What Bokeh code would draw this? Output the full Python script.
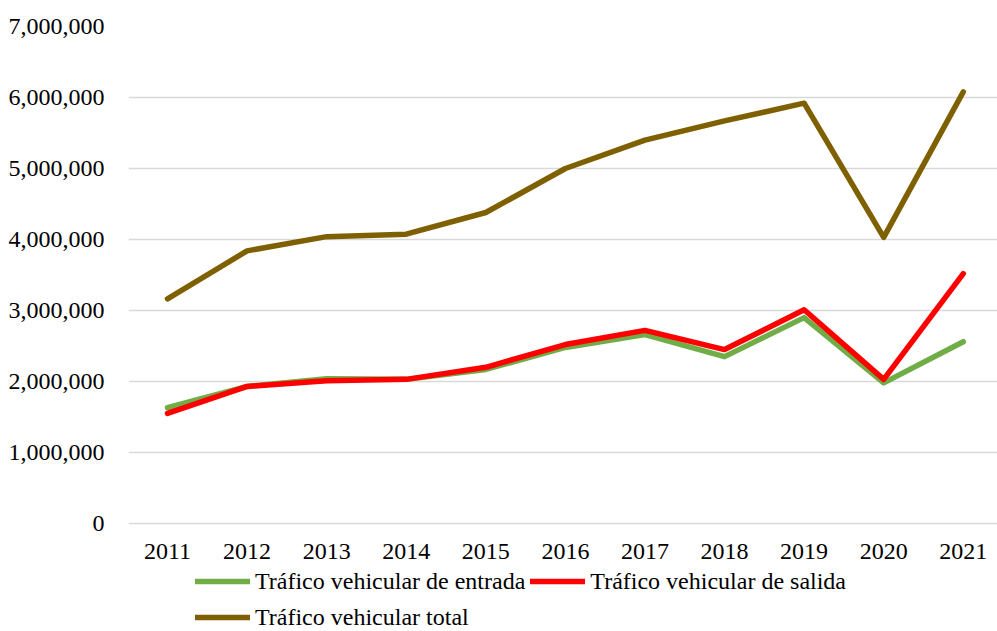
from bokeh.plotting import figure
from bokeh.models import Range1d, FixedTicker, NumeralTickFormatter, Legend, LegendItem, BasicTickFormatter
from bokeh.embed import file_html
from bokeh.resources import INLINE

years = [2011, 2012, 2013, 2014, 2015, 2016, 2017, 2018, 2019, 2020, 2021]
entrada = [1630000, 1930000, 2040000, 2030000, 2170000, 2480000, 2660000, 2350000, 2900000, 1980000, 2560000]
salida = [1550000, 1930000, 2010000, 2030000, 2200000, 2520000, 2720000, 2450000, 3010000, 2030000, 3520000]
total = [3165000, 3840000, 4040000, 4075000, 4380000, 5000000, 5400000, 5670000, 5920000, 4030000, 6080000]
y_ticks = [0, 1000000, 2000000, 3000000, 4000000, 5000000, 6000000, 7000000]
labels = ["Tráfico vehicular de entrada", "Tráfico vehicular de salida", "Tráfico vehicular total"]

FONT = "Liberation Serif"
FS = "24px"

# layout: plot area top at 26px, zero line at 523px, frame extended below zero to host the legend
TOP, ZERO, BOTTOM = 26, 523, 646
Y_MAX = y_ticks[-1]
y_min = -Y_MAX * (BOTTOM - ZERO) / (ZERO - TOP)

p = figure(frame_width=869, frame_height=BOTTOM - TOP, output_backend="svg", toolbar_location=None,
           x_range=Range1d(2010.51, 2021.43), y_range=Range1d(y_min, Y_MAX),
           min_border_left=128, min_border_right=0, min_border_top=TOP, min_border_bottom=0)
p.outline_line_color = None
p.background_fill_color = "white"
p.border_fill_color = "white"

p.xgrid.grid_line_color = None
p.ygrid.grid_line_color = "#D9D9D9"
p.ygrid.grid_line_width = 1.5
p.yaxis.ticker = FixedTicker(ticks=y_ticks)
p.yaxis.formatter = NumeralTickFormatter(format="0,0")
p.xaxis.ticker = FixedTicker(ticks=years)
p.xaxis.formatter = BasicTickFormatter(use_scientific=False)
p.xaxis.fixed_location = 0
for ax in (p.xaxis, p.yaxis):
    ax.axis_line_color = None
    ax.major_tick_line_color = None
    ax.minor_tick_line_color = None
    ax.major_label_text_font = FONT
    ax.major_label_text_font_size = FS
    ax.major_label_text_color = "#000000"
p.yaxis.major_label_standoff = 18
p.xaxis.major_label_standoff = 14

kw = dict(line_width=5.5, line_join="round", line_cap="round")
r1 = p.line(years, entrada, line_color="#70AD47", **kw)
r2 = p.line(years, salida, line_color="#FF0000", **kw)
r3 = p.line(years, total, line_color="#7F6000", **kw)

common = dict(orientation="horizontal", label_text_font=FONT, label_text_font_size=FS,
              label_text_color="#000000", glyph_width=55, glyph_height=28, label_height=28,
              label_standoff=5, spacing=5, margin=0, padding=0,
              border_line_color=None, background_fill_alpha=0)
leg1 = Legend(items=[LegendItem(label=labels[0], renderers=[r1]),
                     LegendItem(label=labels[1], renderers=[r2])],
              location=(67, BOTTOM - 595), **common)
leg2 = Legend(items=[LegendItem(label=labels[2], renderers=[r3])],
              location=(67, BOTTOM - 631), **common)
p.add_layout(leg1)
p.add_layout(leg2)

open("out.html", "w").write(file_html(p, INLINE))
